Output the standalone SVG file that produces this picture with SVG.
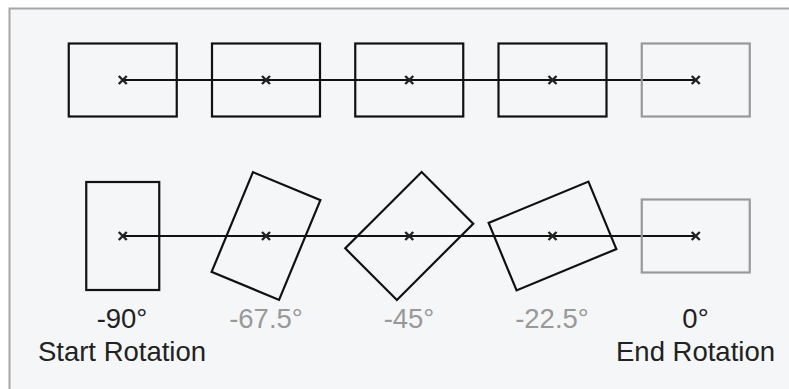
<svg xmlns="http://www.w3.org/2000/svg" width="789" height="389" viewBox="0 0 789 389">
<style>
.frame{fill:#f5f6f8;stroke:#a6a6a6;stroke-width:2}
.box{fill:none;stroke:#111;stroke-width:2.2}
.end{fill:none;stroke:#999;stroke-width:2.2}
.link{stroke:#111;stroke-width:2;fill:none}
.mk{stroke:#222;stroke-width:2.4;fill:none}
.lbl{font-family:"Liberation Sans",Arial,Helvetica,sans-serif;font-size:27.5px;text-anchor:middle;fill:#222}
.dim{fill:#999}
</style>
<defs>
<path id="x" class="mk" d="M-4,-4L4,4M-4,4L4,-4"/>
</defs>
<rect x="0" y="0" width="789" height="389" fill="#fff"/>
<rect class="frame" x="9.5" y="8.5" width="800" height="400"/>
<g id="connectors">
<line class="link" x1="122.75" y1="80" x2="695.75" y2="80"/>
<line class="link" x1="122.75" y1="236" x2="695.75" y2="236"/>
</g>
<g id="top0"><rect class="box" x="68.75" y="43.5" width="108" height="73"/><use href="#x" x="122.75" y="80"/></g>
<g id="top1"><rect class="box" x="212" y="43.5" width="108" height="73"/><use href="#x" x="266" y="80"/></g>
<g id="top2"><rect class="box" x="355.25" y="43.5" width="108" height="73"/><use href="#x" x="409.25" y="80"/></g>
<g id="top3"><rect class="box" x="498.5" y="43.5" width="108" height="73"/><use href="#x" x="552.5" y="80"/></g>
<g id="top4"><rect class="end" x="641.75" y="43.5" width="108" height="73"/><use href="#x" x="695.75" y="80"/></g>
<g id="rot0"><rect class="box" x="-54" y="-36.5" width="108" height="73" transform="translate(122.75,236) rotate(-90)"/><use href="#x" x="122.75" y="236"/></g>
<g id="rot1"><rect class="box" x="-54" y="-36.5" width="108" height="73" transform="translate(266,236) rotate(-67.5)"/><use href="#x" x="266" y="236"/></g>
<g id="rot2"><rect class="box" x="-54" y="-36.5" width="108" height="73" transform="translate(409.25,236) rotate(-45)"/><use href="#x" x="409.25" y="236"/></g>
<g id="rot3"><rect class="box" x="-54" y="-36.5" width="108" height="73" transform="translate(552.5,236) rotate(-22.5)"/><use href="#x" x="552.5" y="236"/></g>
<g id="rot4"><rect class="end" x="641.75" y="199.5" width="108" height="73"/><use href="#x" x="695.75" y="236"/></g>
<g id="labels">
<text class="lbl" x="122" y="328">-90°</text>
<text class="lbl" x="122" y="361">Start Rotation</text>
<text class="lbl dim" x="266" y="328">-67.5°</text>
<text class="lbl dim" x="409" y="328">-45°</text>
<text class="lbl dim" x="552" y="328">-22.5°</text>
<text class="lbl" x="695.5" y="328">0°</text>
<text class="lbl" x="695.5" y="361">End Rotation</text>
</g>
</svg>
